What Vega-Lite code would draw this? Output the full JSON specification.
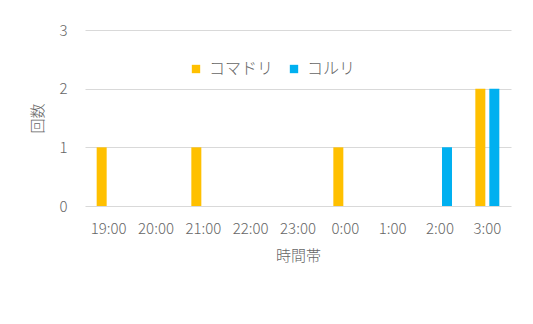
{
  "$schema": "https://vega.github.io/schema/vega-lite/v6.json",
  "autosize": {"type": "none"},
  "width": 426,
  "height": 176,
  "padding": {"left": 85, "top": 30, "right": 22, "bottom": 118},
  "background": "white",
  "data": {"values": [
    {"time": "19:00", "species": "コマドリ", "count": 1},
    {"time": "19:00", "species": "コルリ", "count": 0},
    {"time": "20:00", "species": "コマドリ", "count": 0},
    {"time": "20:00", "species": "コルリ", "count": 0},
    {"time": "21:00", "species": "コマドリ", "count": 1},
    {"time": "21:00", "species": "コルリ", "count": 0},
    {"time": "22:00", "species": "コマドリ", "count": 0},
    {"time": "22:00", "species": "コルリ", "count": 0},
    {"time": "23:00", "species": "コマドリ", "count": 0},
    {"time": "23:00", "species": "コルリ", "count": 0},
    {"time": "0:00", "species": "コマドリ", "count": 1},
    {"time": "0:00", "species": "コルリ", "count": 0},
    {"time": "1:00", "species": "コマドリ", "count": 0},
    {"time": "1:00", "species": "コルリ", "count": 0},
    {"time": "2:00", "species": "コマドリ", "count": 0},
    {"time": "2:00", "species": "コルリ", "count": 1},
    {"time": "3:00", "species": "コマドリ", "count": 2},
    {"time": "3:00", "species": "コルリ", "count": 2}
  ]},
  "mark": {"type": "bar"},
  "encoding": {
    "x": {
      "field": "time", "type": "nominal",
      "sort": ["19:00","20:00","21:00","22:00","23:00","0:00","1:00","2:00","3:00"],
      "scale": {"paddingInner": 0.493, "paddingOuter": 0.2465},
      "axis": {"title": "時間帯", "labelAngle": 0, "domain": false, "ticks": false, "labelPadding": 15, "titlePadding": 12}
    },
    "xOffset": {
      "field": "species", "type": "nominal",
      "sort": ["コマドリ", "コルリ"],
      "scale": {"paddingInner": 0.2857, "paddingOuter": 0}
    },
    "y": {
      "field": "count", "type": "quantitative",
      "scale": {"domain": [0, 3]},
      "axis": {"title": "回数", "values": [0, 1, 2, 3], "domain": false, "ticks": false, "labelPadding": 18, "titlePadding": 13}
    },
    "color": {
      "field": "species", "type": "nominal",
      "sort": ["コマドリ", "コルリ"],
      "scale": {"domain": ["コマドリ", "コルリ"], "range": ["#FFC000", "#00B0F0"]},
      "legend": {
        "title": null, "orient": "none", "direction": "horizontal",
        "legendX": 103, "legendY": 31,
        "symbolType": "square", "symbolSize": 70, "symbolStrokeWidth": 0,
        "columnPadding": 12, "labelOffset": 5
      }
    }
  },
  "config": {
    "view": {"stroke": null},
    "font": "Noto Sans CJK JP",
    "axis": {
      "labelFont": "Noto Sans CJK JP", "labelFontSize": 15, "labelColor": "#666666", "labelFontWeight": 300,
      "titleFont": "Noto Sans CJK JP", "titleFontSize": 15, "titleColor": "#666666", "titleFontWeight": 300,
      "gridColor": "#d9d9d9", "gridWidth": 1
    },
    "axisX": {"grid": false},
    "legend": {"labelFont": "Noto Sans CJK JP", "labelFontSize": 16, "labelColor": "#666666", "labelFontWeight": 300}
  }
}
